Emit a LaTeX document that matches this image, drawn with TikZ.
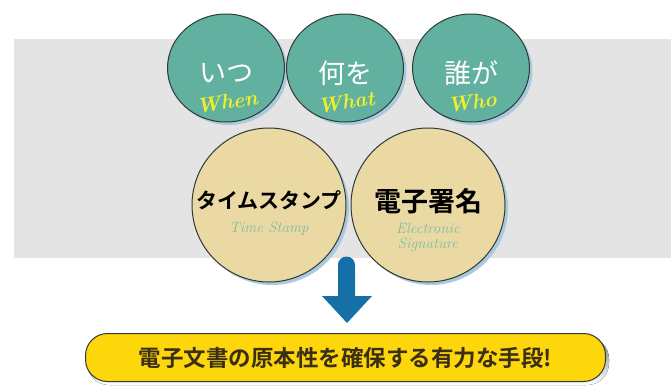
\documentclass[tikz,border=0pt]{standalone}
\usepackage{fontspec}
\newfontfamily\jp{Noto Sans CJK JP}[BoldFont={Noto Sans CJK JP Bold}]
\usetikzlibrary{shapes.geometric}
\definecolor{band}{HTML}{E4E4E4}
\definecolor{teal}{HTML}{62B1A0}
\definecolor{beige}{HTML}{EAD9A3}
\definecolor{edge}{HTML}{2E3A36}
\definecolor{shade}{HTML}{A9C9DD}
\definecolor{ylw}{HTML}{FDD60B}
\definecolor{arrowblue}{HTML}{1670A8}
\definecolor{entext}{HTML}{F0F02A}
\definecolor{subtext}{HTML}{7DBDA3}
\definecolor{boxtext}{HTML}{3A2E14}
\tikzset{
  topc/.style={ellipse, minimum width=117pt, minimum height=108pt, fill=teal, draw=edge, line width=1pt, inner sep=0pt},
  botc/.style={circle, minimum size=154pt, fill=beige, draw=edge, line width=1pt, inner sep=0pt},
  topshadow/.style={ellipse, minimum width=117pt, minimum height=108pt, fill=shade, inner sep=0pt},
  botshadow/.style={circle, minimum size=154pt, fill=shade, inner sep=0pt},
  jpw/.style={font=\jp\fontsize{27}{27}\selectfont, text=white},
  jpb/.style={font=\jp\bfseries\fontsize{27}{27}\selectfont, text=black},
  enw/.style={font=\normalfont\bfseries\itshape\fontsize{21}{21}\selectfont, text=entext, rotate=8},
  ens/.style={font=\normalfont\itshape\fontsize{15}{15}\selectfont, text=subtext, align=center, inner sep=1pt},
}
\begin{document}
\begin{tikzpicture}[x=1pt,y=-1pt]
\useasboundingbox (0,0) rectangle (671,386);
\fill[band] (14,39) rectangle (671,258);
% shadows
\foreach \x in {226,345,471} \node[topshadow] at (\x+3,71) {};
\foreach \x in {269,428} \node[botshadow] at (\x+3,208) {};
% top circles
\node[topc] (when) at (226,68) {};
\node[topc] (what) at (345,68) {};
\node[topc] (who) at (471,68) {};
\node[jpw] (whenj) at ([yshift=-5pt]when.center) {いつ};
\node[jpw] (whatj) at ([yshift=-5pt]what.center) {何を};
\node[jpw] (whoj) at ([yshift=-5pt]who.center) {誰が};
\node[enw] (whene) at ([xshift=1pt,yshift=-34pt]when.center) {When};
\node[enw] (whate) at ([xshift=1pt,yshift=-34pt]what.center) {What};
\node[enw] (whoe) at ([xshift=1pt,yshift=-34pt]who.center) {Who};
% bottom circles
\node[botc] (ts) at (269,205) {};
\node[botc] (es) at (428,205) {};
\node[font=\jp\bfseries\fontsize{21}{21}\selectfont, text=black] (tsj) at (269,200) {タイムスタンプ};
\node[jpb] (esj) at (428,201) {電子署名};
\node[ens] (tse) at (269,229) {Time Stamp};
\node[ens] (ese) at (428,237) {Electronic\\Signature};
% arrow
\fill[arrowblue, rounded corners=3pt] (338,272) -- (338,265) [sharp corners] -- (338,265) arc (180:0:8.5pt) -- (355,296) -- (372,296) -- (347,323) -- (322,296) -- (338,296) -- cycle;
% result box
\fill[shade, rounded corners=22pt] (87,337) rectangle (609,385);
\node[draw=edge, line width=1pt, fill=ylw, rounded corners=22pt, minimum width=520pt, minimum height=48pt, font=\jp\bfseries\fontsize{22.5}{22.5}\selectfont, text=boxtext] (res) at (345.5,357.5) {電子文書の原本性を確保する有力な手段!};
\end{tikzpicture}
\end{document}
